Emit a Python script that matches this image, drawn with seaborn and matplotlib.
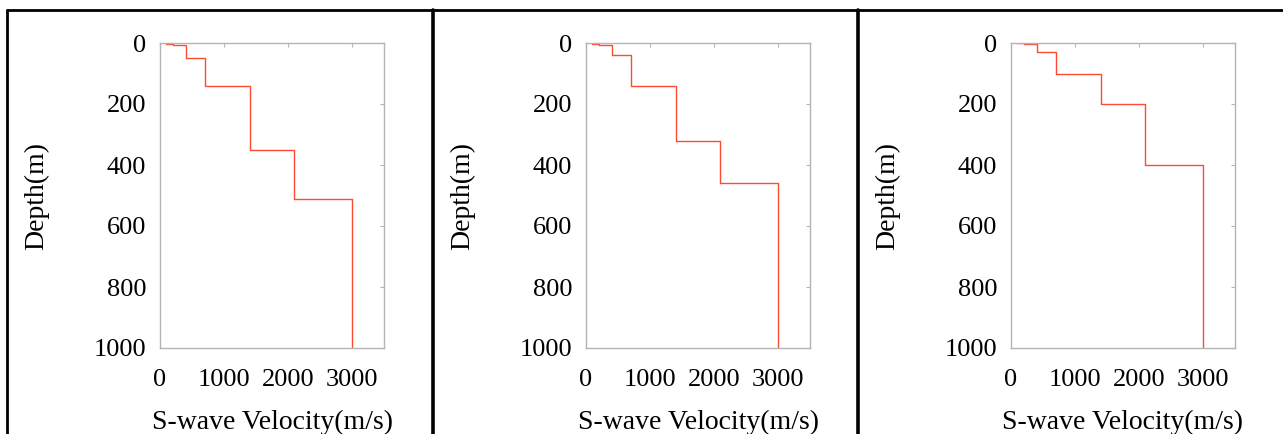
import matplotlib
matplotlib.use("Agg")
import matplotlib.pyplot as plt
from matplotlib.lines import Line2D
import seaborn as sns
import pandas as pd

# capas del modelo: velocidad de onda S (m/s) y profundidad del techo de cada capa (m)
vs_1 = [100, 200, 400, 700, 1400, 2100, 3000]
top_1 = [0, 2, 6, 50, 140, 350, 510]

vs_2 = [100, 200, 400, 700, 1400, 2100, 3000]
top_2 = [0, 2, 6, 40, 140, 320, 460]

vs_3 = [100, 200, 400, 700, 1400, 2100, 3000]
top_3 = [0, 1, 4, 30, 100, 200, 400]

max_depth = 1000
xticks = [0, 1000, 2000, 3000]
yticks = [0, 200, 400, 600, 800, 1000]

modelos = [(vs_1, top_1), (vs_2, top_2), (vs_3, top_3)]


def perfil(vs, tops):
    # se arma el perfil escalonado a partir de las capas
    bottoms = tops[1:] + [max_depth]
    xs, ys = [], []
    for v, t, b in zip(vs, tops, bottoms):
        xs += [v, v]
        ys += [t, b]
    return pd.DataFrame({"vel": xs, "depth": ys})


sns.set_style("white")
plt.rcParams["font.family"] = ["Liberation Serif", "DejaVu Serif"]
plt.rcParams["text.color"] = "black"
plt.rcParams["axes.labelcolor"] = "black"

W, H = 1283, 434
fig = plt.figure(figsize=(W / 100, H / 100), dpi=100)

gris = "#b4b4b4"
lefts = [160, 586, 1011]
for i, (vs, tops) in enumerate(modelos):
    ax = fig.add_axes([lefts[i] / W, (H - 348) / H, 224 / W, 305 / H])
    df = perfil(vs, tops)
    sns.lineplot(data=df, x="vel", y="depth", sort=False, estimator=None,
                 color="#ff4a33", linewidth=1.0, ax=ax)
    ax.set_xlim(0, 3500)
    ax.set_ylim(max_depth, 0)
    ax.set_xticks(xticks)
    ax.set_yticks(yticks)
    for s in ax.spines.values():
        s.set_color(gris)
        s.set_linewidth(1.0)
    ax.tick_params(direction="in", length=3, width=0.8, color=gris,
                   top=True, right=True, labelsize=19, labelcolor="black")
    ax.tick_params(axis="x", pad=15)
    ax.tick_params(axis="y", pad=10)
    ax.set_xlabel("S-wave Velocity(m/s)", fontsize=20, labelpad=14, color="black")
    ax.set_ylabel("Depth(m)", fontsize=20, labelpad=32, color="black")

# marcos negros de cada panel
def linea(x0, y0, x1, y1, lw):
    fig.add_artist(Line2D([x0 / W, x1 / W], [1 - y0 / H, 1 - y1 / H],
                          color="black", linewidth=lw, transform=fig.transFigure))

linea(7, 10, W, 10, 2.0)
linea(7, 10, 7, H, 2.0)
linea(433, 10, 433, H, 2.6)
linea(858, 10, 858, H, 2.6)

plt.savefig("out.png", dpi=100)
